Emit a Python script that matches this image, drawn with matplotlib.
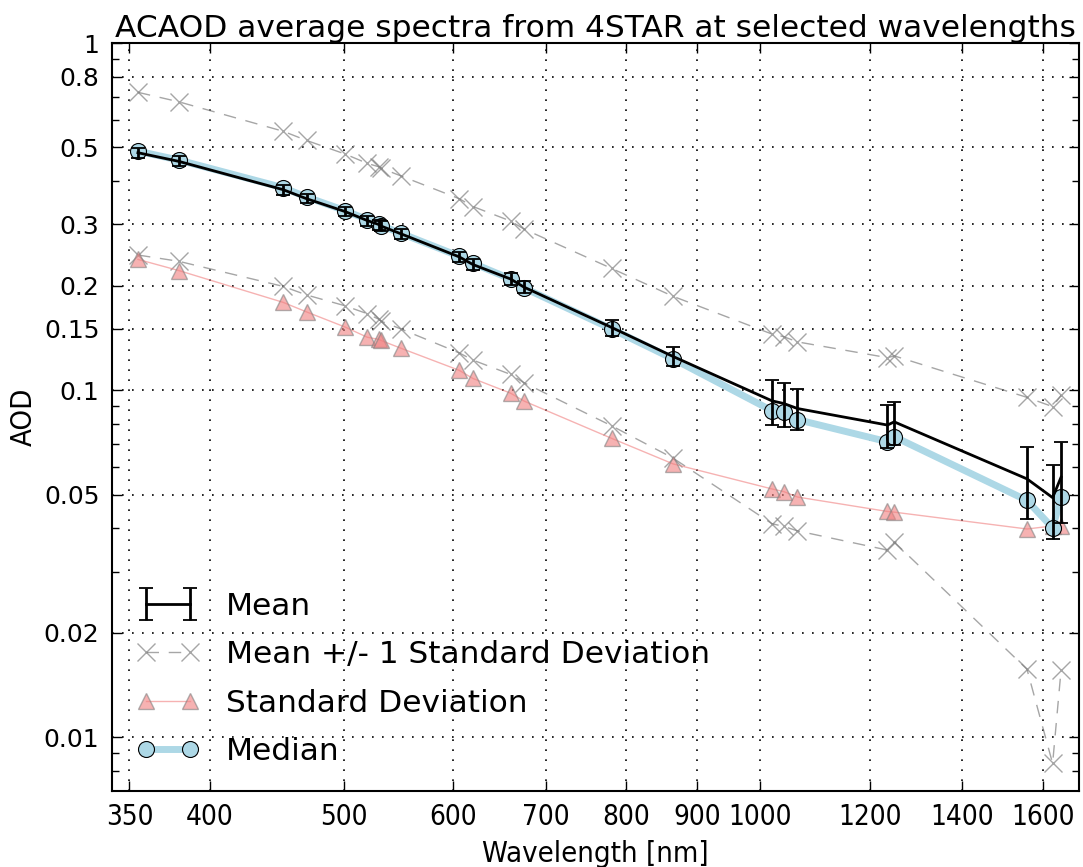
import matplotlib
matplotlib.use('Agg')
import matplotlib.pyplot as plt
import numpy as np
from matplotlib.ticker import FixedLocator, NullLocator, NullFormatter

# 4STAR wavelengths [nm]
wvl = [355, 380, 452, 470, 501, 520, 530, 532, 550, 606, 620, 660, 675,
       781, 865, 1020, 1040, 1064, 1236, 1250, 1559, 1627, 1650]

mean_aod = [0.483, 0.456, 0.378, 0.356, 0.327, 0.308, 0.300, 0.297, 0.282,
            0.242, 0.230, 0.209, 0.198, 0.1515, 0.125, 0.0931, 0.0915,
            0.0885, 0.0793, 0.081, 0.0555, 0.0490, 0.0561]
mean_err = [0.016, 0.015, 0.012, 0.011, 0.010, 0.010, 0.010, 0.010, 0.009,
            0.008, 0.008, 0.008, 0.008, 0.008, 0.008, 0.0137, 0.013, 0.012,
            0.0112, 0.0116, 0.013, 0.0118, 0.0146]
std_aod = [0.238, 0.221, 0.179, 0.168, 0.152, 0.142, 0.140, 0.139, 0.132,
           0.114, 0.108, 0.098, 0.093, 0.0726, 0.0613, 0.0519, 0.051,
           0.0492, 0.0447, 0.0445, 0.0398, 0.0406, 0.0405]
median_aod = [0.488, 0.460, 0.383, 0.360, 0.329, 0.310, 0.301, 0.298, 0.283,
              0.243, 0.232, 0.209, 0.197, 0.150, 0.123, 0.0872, 0.0863,
              0.0822, 0.0710, 0.0734, 0.0481, 0.0401, 0.0491]

xtick_vals = [350, 400, 500, 600, 700, 800, 900, 1000, 1200, 1400, 1600]
ytick_vals = [1, 0.8, 0.5, 0.3, 0.2, 0.15, 0.1, 0.05, 0.02, 0.01]
ytick_labels = ['1', '0.8', '0.5', '0.3', '0.2', '0.15', '0.1', '0.05', '0.02', '0.01']

mean_a = np.array(mean_aod)
std_a = np.array(std_aod)

fig = plt.figure(figsize=(10.83, 8.67), dpi=100)
ax = fig.add_axes([0.1034, 0.0877, 0.8929, 0.8627])

# median (thick light blue, underneath)
ax.plot(wvl, median_aod, '-o', color='lightblue', lw=5, markersize=11.5,
        markerfacecolor='lightblue', markeredgecolor='k', markeredgewidth=0.8,
        label='Median', zorder=3)

# mean +/- std
ax.plot(wvl, mean_a + std_a, 'x--', color='grey', alpha=0.7, lw=1, markersize=13,
        markeredgewidth=1, dashes=(9, 7), label='Mean +/- 1 Standard Deviation', zorder=2)
ax.plot(wvl, mean_a - std_a, 'x--', color='grey', alpha=0.7, lw=1, markersize=13,
        markeredgewidth=1, dashes=(9, 7), zorder=2)

# std
ax.plot(wvl, std_aod, '-^', color='lightcoral', alpha=0.6, lw=1, markersize=12,
        markerfacecolor='lightcoral', markeredgecolor='grey',
        label='Standard Deviation', zorder=2)

# mean with error bars
ax.errorbar(wvl, mean_aod, yerr=mean_err, color='k', lw=2, elinewidth=2,
            capsize=5, capthick=1.3, label='Mean', zorder=4)

ax.set_xscale('log')
ax.set_yscale('log')
ax.set_xlim(340, 1700)
ax.set_ylim(0.007, 1)

ax.xaxis.set_major_locator(FixedLocator(xtick_vals))
ax.xaxis.set_minor_locator(NullLocator())
ax.set_xticklabels([str(v) for v in xtick_vals], fontsize=20, fontstretch='condensed')
ax.yaxis.set_major_locator(FixedLocator(ytick_vals))
ax.yaxis.set_minor_locator(FixedLocator([0.9, 0.7, 0.6, 0.4, 0.09, 0.08, 0.07, 0.06,
                                         0.04, 0.03, 0.009, 0.008]))
ax.yaxis.set_minor_formatter(NullFormatter())
ax.set_yticklabels(ytick_labels, fontsize=18)

ax.tick_params(which='both', direction='in', top=True, right=True, width=1)
ax.tick_params(which='major', length=7, pad=9)
ax.tick_params(which='minor', length=5)
for sp in ax.spines.values():
    sp.set_linewidth(1.5)

ax.grid(True, which='major', color='k', linestyle=(0, (1, 5)), lw=1.2)

ax.set_xlabel('Wavelength [nm]', fontsize=21, fontstretch='condensed', labelpad=6)
ax.set_ylabel('AOD', fontsize=21, fontstretch='condensed')
ax.set_title('ACAOD average spectra from 4STAR at selected wavelengths',
             fontsize=22.5, pad=4)

handles, labels = ax.get_legend_handles_labels()
order = [labels.index(l) for l in ['Mean', 'Mean +/- 1 Standard Deviation',
                                   'Standard Deviation', 'Median']]
ax.legend([handles[i] for i in order], [labels[i] for i in order],
          loc='lower left', frameon=False, fontsize=22.5, numpoints=2,
          handlelength=2.0, handletextpad=0.85, labelspacing=0.62,
          borderaxespad=0.4)

plt.savefig('out.png', dpi=100)
